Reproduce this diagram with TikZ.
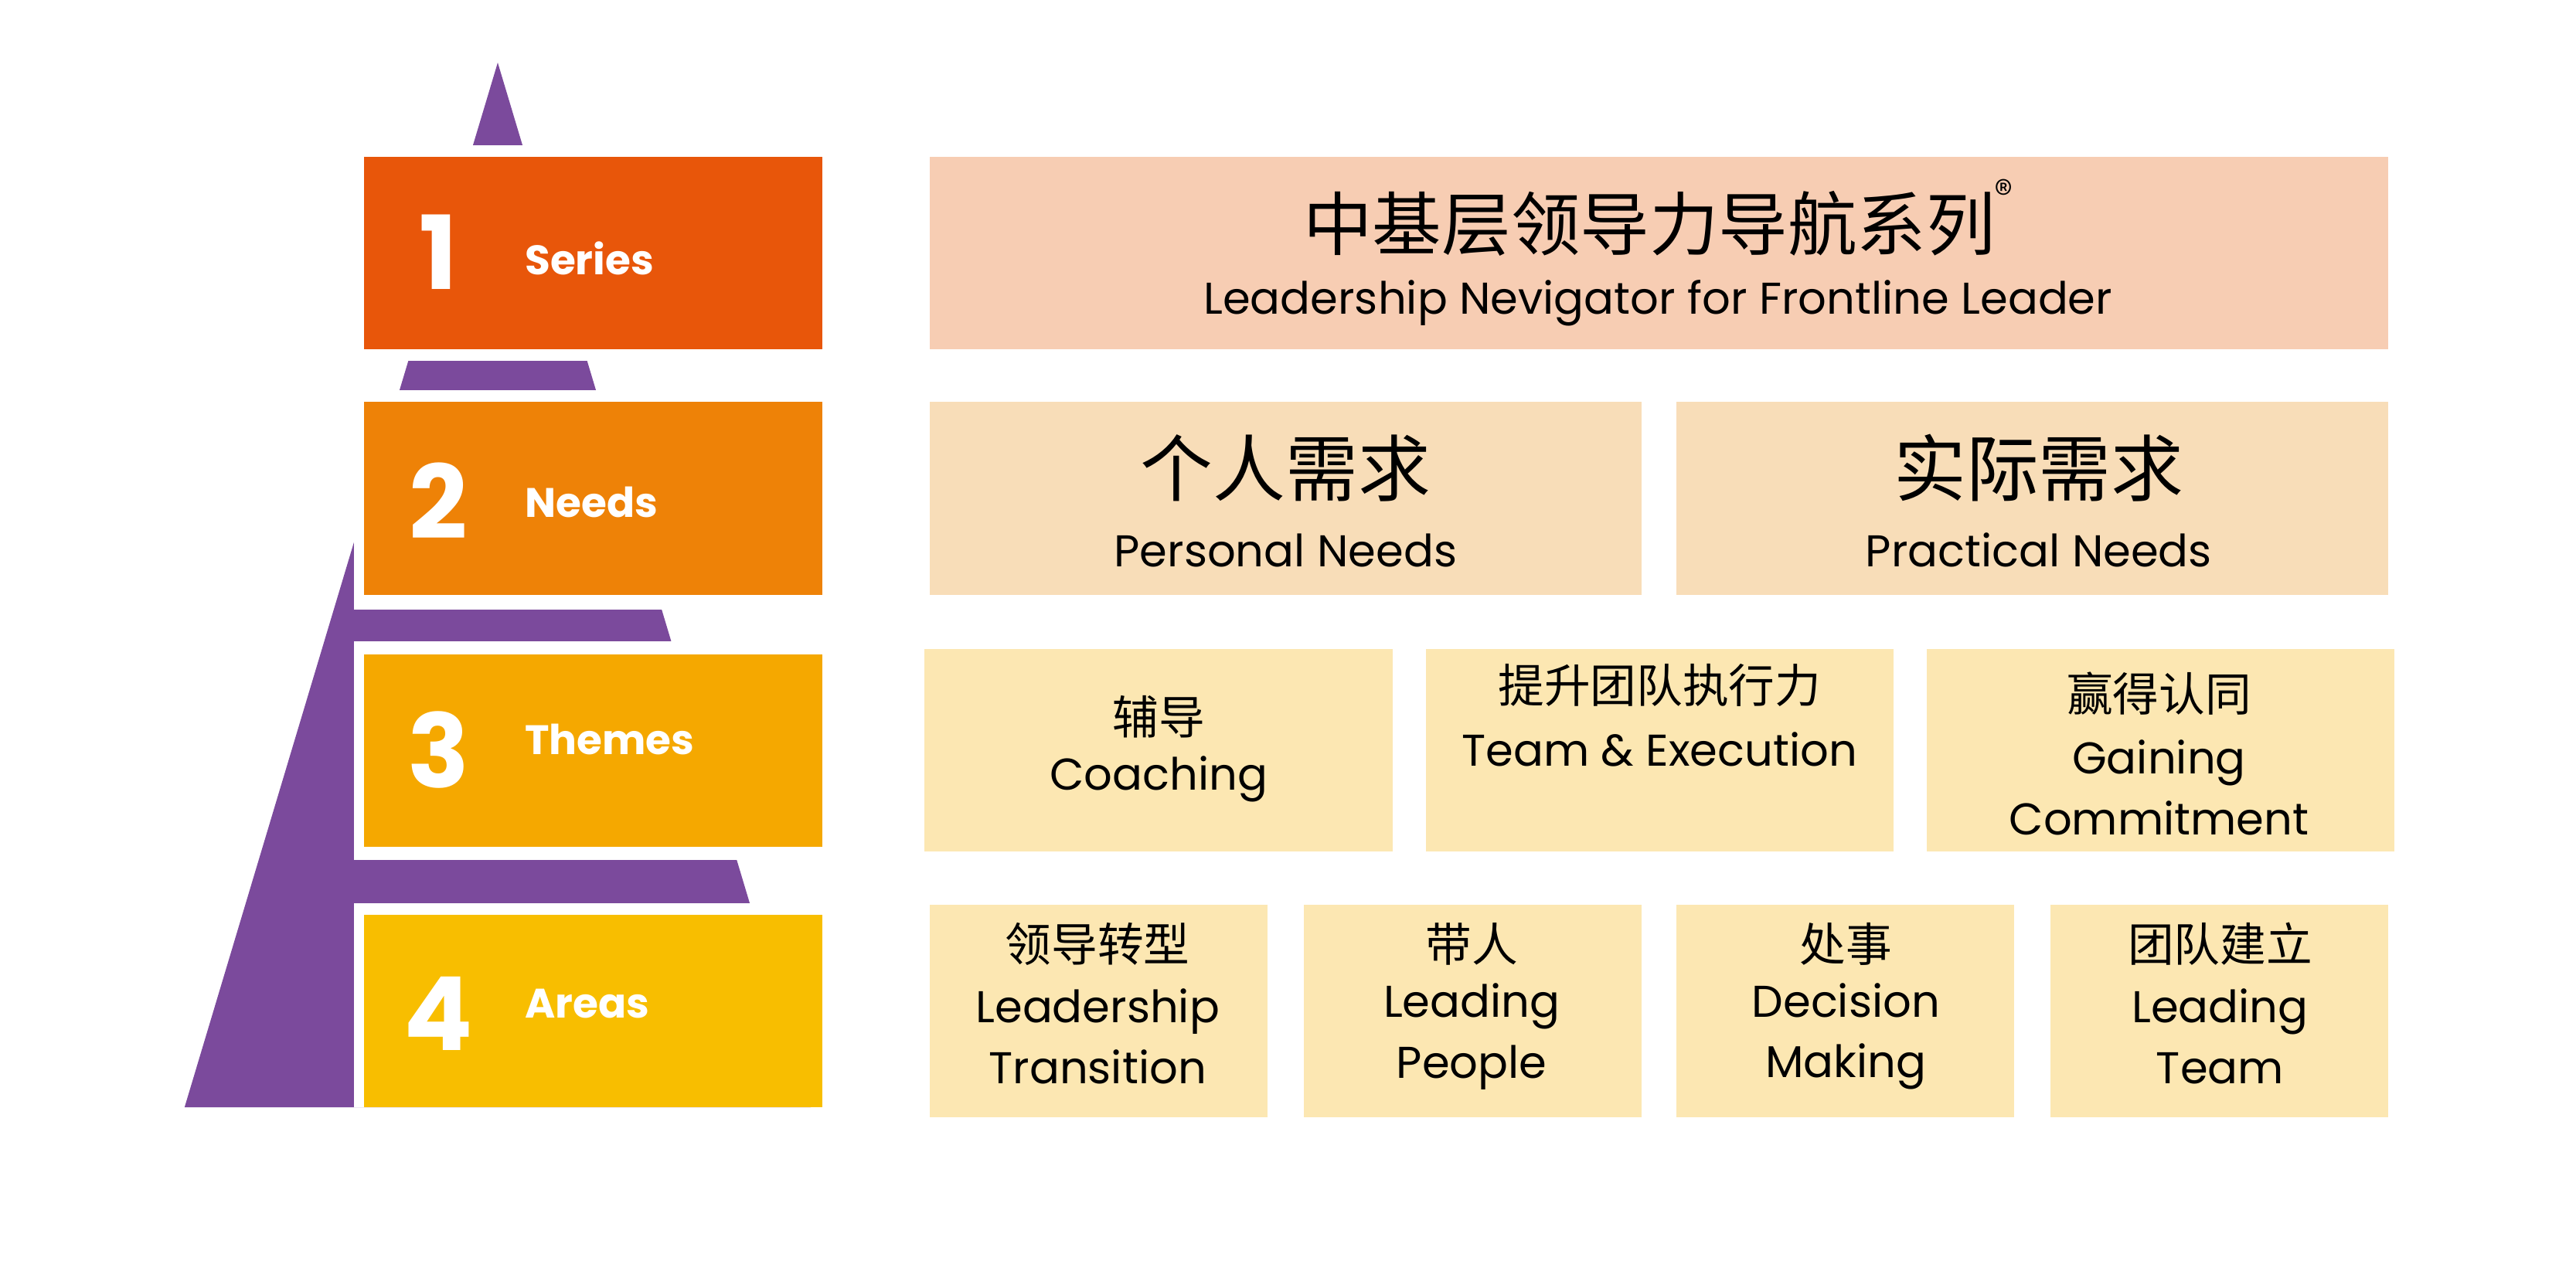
\documentclass[tikz,border=0pt]{standalone}
\usepackage{fontspec}
\setmainfont{Poppins}
\newfontfamily\cjk{Noto Sans CJK SC}
\definecolor{pur}{HTML}{7B4A9C}
\definecolor{c1}{HTML}{E8560A}
\definecolor{c2}{HTML}{EE8207}
\definecolor{c3}{HTML}{F5A800}
\definecolor{c4}{HTML}{F8BE00}
\definecolor{p1}{HTML}{F7CDB3}
\definecolor{p2}{HTML}{F8DDB8}
\definecolor{p3}{HTML}{FCE7B2}
\begin{document}
\begin{tikzpicture}[x=1pt,y=-1pt,
  lvl/.style={fill=#1,draw=none},
  rb/.style={fill=#1,draw=none},
  num/.style={text=white,font=\fontsize{62}{62}\selectfont\bfseries},
  lab/.style={text=white,font=\fontsize{25}{25}\selectfont\bfseries,anchor=west},
  en/.style={font=\fontsize{27}{32}\selectfont,align=center},
  zh/.style={font=\cjk\fontsize{#1}{#1}\selectfont}]
\useasboundingbox (0,0) rectangle (1563,781.7);
\fill[pur] (302,38) -- (112,672) -- (492,672) -- cycle;
\fill[white] (215,0) rectangle (221,95);
\foreach \a/\b in {212/219,237/244,361/370,389/397,514/522,548/555}
  \fill[white] (215,\a) rectangle (500,\b);
\fill[white] (0,88) rectangle (1563,95);
\fill[white] (215,88) rectangle (520,95);
\foreach \a/\b in {95/212,244/361,397/514,555/672}
  \fill[white] (215,\a) rectangle (221,\b);
\fill[white] (499,0) rectangle (560,700);
% left boxes
\node[lvl=c1,minimum width=278,minimum height=117,inner sep=0] (l1) at (360,153.5) {};
\node[lvl=c2,minimum width=278,minimum height=117,inner sep=0] (l2) at (360,302.5) {};
\node[lvl=c3,minimum width=278,minimum height=117,inner sep=0] (l3) at (360,455.5) {};
\node[lvl=c4,minimum width=278,minimum height=117,inner sep=0] (l4) at (360,613.5) {};
\node[num] (n1) at (266,153) {1}; \node[lab] (t1) at (315,157) {Series};
\node[num] (n2) at (266,304) {2}; \node[lab] (t2) at (315,305) {Needs};
\node[num] (n3) at (266,455) {3}; \node[lab] (t3) at (315,449) {Themes};
\node[num] (n4) at (266,615) {4}; \node[lab] (t4) at (315,609) {Areas};
% right boxes
\fill[p1] (564,95) rectangle (1449,212);
\node[zh=42] (a1) at (1006,132) {中基层领导力导航系列\raisebox{0.6em}{\fontsize{22}{22}\selectfont ®}};
\node[en] (a2) at (1006,184) {Leadership Nevigator for Frontline Leader};
\fill[p2] (564,244) rectangle (996,361);
\fill[p2] (1017,244) rectangle (1449,361);
\node[zh=44] (b1) at (780,284) {个人需求};
\node[en] (b2) at (780,334) {Personal Needs};
\node[zh=44] (b3) at (1237,284) {实际需求};
\node[en] (b4) at (1237,334) {Practical Needs};
\fill[p3] (561,394) rectangle (845,517);
\fill[p3] (865,394) rectangle (1149,517);
\fill[p3] (1169,394) rectangle (1453,517);
\node[zh=28] (c1n) at (703,435) {辅导};
\node[en] (c1e) at (703,473) {Coaching};
\node[zh=28] (c2n) at (1007,416) {提升团队执行力};
\node[en] (c2e) at (1007,455) {Team \& Execution};
\node[zh=28] (c3n) at (1310,421) {赢得认同};
\node[en,font=\fontsize{27}{37}\selectfont] (c3e) at (1310,478) {Gaining\\Commitment};
\foreach \x in {564,791,1017,1244} \fill[p3] (\x,549) rectangle ++(205,129);
\node[zh=28] (d1n) at (666,573) {领导转型};
\node[en,font=\fontsize{27}{37}\selectfont] (d1e) at (666,629) {Leadership\\Transition};
\node[zh=28] (d2n) at (893,573) {带人};
\node[en,font=\fontsize{27}{37}\selectfont] (d2e) at (893,629) {Leading\\People};
\node[zh=28] (d3n) at (1120,573) {处事};
\node[en,font=\fontsize{27}{37}\selectfont] (d3e) at (1120,629) {Decision\\Making};
\node[zh=28] (d4n) at (1347,573) {团队建立};
\node[en,font=\fontsize{27}{37}\selectfont] (d4e) at (1347,629) {Leading\\Team};
\end{tikzpicture}
\end{document}
